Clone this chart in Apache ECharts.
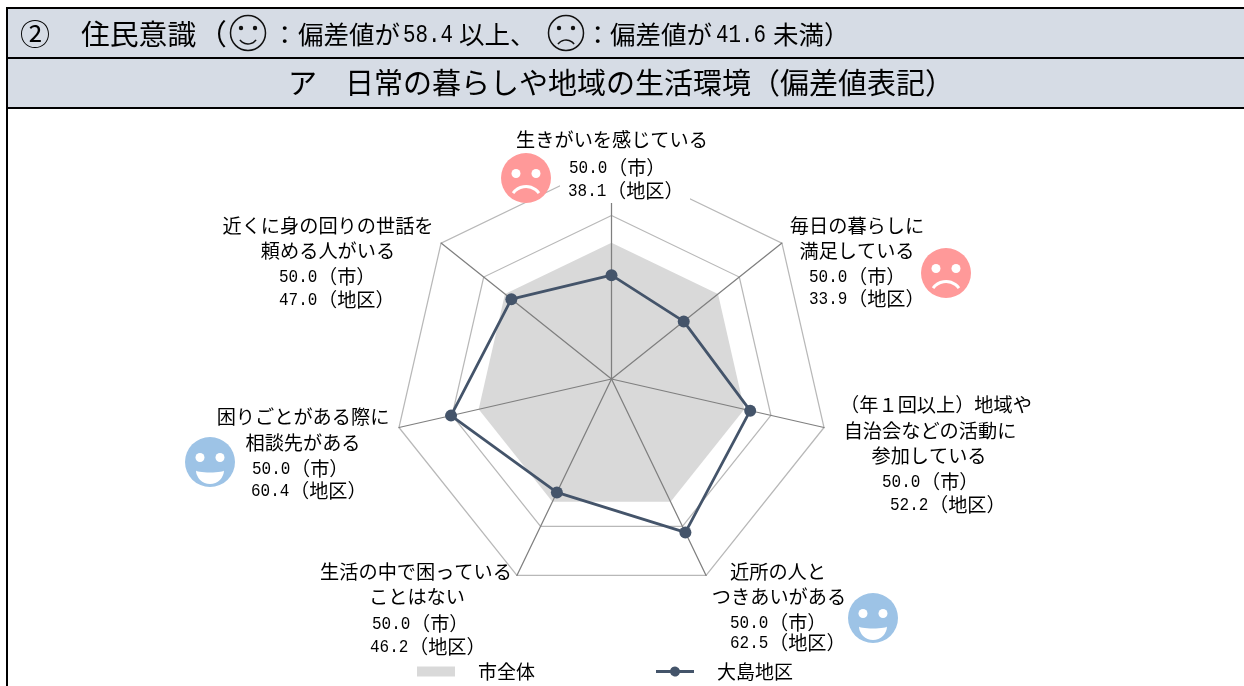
<!DOCTYPE html>
<html>
<head>
<meta charset="utf-8">
<title>住民意識</title>
<script src="https://cdn.jsdelivr.net/npm/echarts@6/dist/echarts.min.js"></script>
<style>
  html, body { margin: 0; padding: 0; background: #fff; }
  #chart { width: 1244px; height: 686px; }
</style>
</head>
<body>
<div id="chart"></div>
<script>
var indicators = [
  '生きがいを感じている',
  '毎日の暮らしに満足している',
  '（年１回以上）地域や自治会などの活動に参加している',
  '近所の人とつきあいがある',
  '生活の中で困っていることはない',
  '困りごとがある際に相談先がある',
  '近くに身の回りの世話を頼める人がいる'
];
var cityValues = [50.0, 50.0, 50.0, 50.0, 50.0, 50.0, 50.0];
var districtValues = [38.1, 33.9, 52.2, 62.5, 46.2, 60.4, 47.0];
var axisMax = 80;
var seriesNames = ['市全体', '大島地区'];

var jpFont = '"Noto Sans CJK JP", sans-serif';
var numFont = '"Liberation Mono", monospace';
var chart = echarts.init(document.getElementById('chart'));

// レーダーは反時計回りに並ぶので、時計回りに見えるよう先頭以外を逆順にする
function clockwiseOrder(list) {
  return [list[0]].concat(list.slice(1).reverse());
}

// 軸ラベルの配置（項目名は行ごとに中央揃え、数値は左揃え）
var labelLayout = [
  { lines: [['生きがいを感じている', 612, 140]], vals: [[569, 168], [568, 191]] },
  { lines: [['毎日の暮らしに', 857, 226], ['満足している', 857, 251]], vals: [[809, 277], [809, 299]] },
  { lines: [['（年１回以上）地域や', 936, 405], ['自治会などの活動に', 930, 431], ['参加している', 929, 456]], vals: [[882, 482], [890, 505]] },
  { lines: [['近所の人と', 778, 572], ['つきあいがある', 779, 597]], vals: [[730, 623], [730, 643]] },
  { lines: [['生活の中で困っている', 416, 572], ['ことはない', 417, 597]], vals: [[372, 624], [370, 647]] },
  { lines: [['困りごとがある際に', 303, 417], ['相談先がある', 303, 443]], vals: [[252, 469], [251, 491]] },
  { lines: [['近くに身の回りの世話を', 328, 226], ['頼める人がいる', 328, 251]], vals: [[279, 277], [279, 300]] }
];

function plainText(text, x, y, size, align) {
  return {
    type: 'text', x: x, y: y, z: 10,
    style: { text: text, font: size + 'px ' + jpFont, fill: '#000', align: align || 'left', verticalAlign: 'middle' }
  };
}

// 数字は半角幅に合わせて横だけ詰める
function digitText(text, x, y, size) {
  return {
    type: 'text', x: x, y: y, z: 10, scaleX: 0.833,
    style: { text: text, font: size + 'px ' + numFont, fill: '#000', align: 'left', verticalAlign: 'middle' }
  };
}

function valueText(num, suffix, x, y) {
  return [
    digitText(num.toFixed(1), x, y, 19.2),
    plainText(suffix, x + 39, y, 19.2)
  ];
}

// 吹き出し横の顔マーク
function faceIcon(cx, cy, happy) {
  var color = happy ? '#9DC3E6' : '#FF9999';
  var items = [
    { type: 'circle', z: 9, shape: { cx: cx, cy: cy, r: 25 }, style: { fill: color } },
    { type: 'circle', z: 9, shape: { cx: cx - 10, cy: cy - 4.5, r: 4.5 }, style: { fill: '#fff' } },
    { type: 'circle', z: 9, shape: { cx: cx + 10, cy: cy - 4.5, r: 4.5 }, style: { fill: '#fff' } }
  ];
  if (happy) {
    // 半円の上辺を楕円で削って口の形にする
    items.push({ type: 'sector', z: 9, shape: { cx: cx, cy: cy + 8, r: 14, startAngle: 0, endAngle: Math.PI }, style: { fill: '#fff' } });
    items.push({ type: 'ellipse', z: 9, shape: { cx: cx, cy: cy + 8, rx: 14.5, ry: 2.5 }, style: { fill: color } });
  } else {
    items.push({ type: 'arc', z: 9, shape: { cx: cx, cy: cy + 24.5, r: 16, startAngle: Math.PI * 1.2, endAngle: Math.PI * 1.8 }, style: { stroke: '#fff', lineWidth: 3, fill: null } });
  }
  return items;
}

// 見出し内の線画の顔
function outlineFace(cx, cy, happy) {
  return [
    { type: 'circle', z: 9, shape: { cx: cx, cy: cy, r: 17.5 }, style: { fill: 'none', stroke: '#111', lineWidth: 1.5 } },
    { type: 'circle', z: 9, shape: { cx: cx - 7, cy: cy - 5, r: 2.2 }, style: { fill: '#111' } },
    { type: 'circle', z: 9, shape: { cx: cx + 7, cy: cy - 5, r: 2.2 }, style: { fill: '#111' } },
    happy
      ? { type: 'arc', z: 9, shape: { cx: cx, cy: cy + 1, r: 10, startAngle: Math.PI * 0.2, endAngle: Math.PI * 0.8 }, style: { stroke: '#111', lineWidth: 1.5, fill: null } }
      : { type: 'arc', z: 9, shape: { cx: cx, cy: cy + 17, r: 10, startAngle: Math.PI * 1.2, endAngle: Math.PI * 1.8 }, style: { stroke: '#111', lineWidth: 1.5, fill: null } }
  ];
}

var elements = [
  // 見出しの帯と罫線
  { type: 'rect', z: 1, shape: { x: 7, y: 8, width: 1237, height: 100 }, style: { fill: '#D6DCE5' } },
  { type: 'rect', z: 2, shape: { x: 7, y: 7, width: 1237, height: 2 }, style: { fill: '#000' } },
  { type: 'rect', z: 2, shape: { x: 7, y: 57, width: 1237, height: 2 }, style: { fill: '#000' } },
  { type: 'rect', z: 2, shape: { x: 7, y: 107, width: 1237, height: 2 }, style: { fill: '#000' } },
  { type: 'rect', z: 2, shape: { x: 6, y: 7, width: 2, height: 679 }, style: { fill: '#000' } },
  // 上端の項目名の背面を白く抜く
  { type: 'rect', z: 4, shape: { x: 560, y: 128, width: 130, height: 75 }, style: { fill: '#fff' } },
  plainText('②', 20, 34, 30),
  plainText('住民意識', 81, 34, 28.8),
  plainText('（', 198, 34, 28.8),
  plainText('：', 272, 34, 25.5),
  plainText('偏差値が', 298, 34, 25.5),
  digitText('58.4', 403, 35, 25),
  plainText('以上、', 459, 34, 25.5),
  plainText('：', 585, 34, 25.5),
  plainText('偏差値が', 610, 34, 25.5),
  digitText('41.6', 716, 35, 25),
  plainText('未満）', 773, 34, 25.5),
  plainText('ア', 288, 83, 29),
  plainText('日常の暮らしや地域の生活環境（偏差値表記）', 345, 83, 29)
];
elements = elements.concat(outlineFace(248, 33, true), outlineFace(566, 33, false));
elements = elements.concat(faceIcon(526, 178, false), faceIcon(946, 273, false), faceIcon(873, 618, true), faceIcon(210, 462, true));

labelLayout.forEach(function (item, i) {
  item.lines.forEach(function (l) {
    elements.push(plainText(l[0], l[1], l[2], 19.2, 'center'));
  });
  elements = elements.concat(valueText(cityValues[i], '（市）', item.vals[0][0], item.vals[0][1]));
  elements = elements.concat(valueText(districtValues[i], '（地区）', item.vals[1][0], item.vals[1][1]));
});

var radarIndicator = clockwiseOrder(indicators).map(function (name) {
  return { name: name, min: 0, max: axisMax };
});

var option = {
  animation: false,
  backgroundColor: '#fff',
  radar: [{
    // 目盛り線は塗りの下
    center: [611.5, 379],
    radius: 218,
    splitNumber: 4,
    indicator: radarIndicator,
    z: 0,
    axisName: { show: false },
    axisLine: { show: false },
    axisTick: { show: false },
    axisLabel: { show: false },
    splitArea: { show: false },
    splitLine: { lineStyle: { color: '#B8B8B8', width: 1.25 } }
  }, {
    // 放射線は塗りの上
    center: [611.5, 379],
    radius: 218,
    splitNumber: 4,
    indicator: radarIndicator,
    z: 3,
    axisName: { show: false },
    axisLine: { lineStyle: { color: '#7F7F7F', width: 1.25 } },
    axisTick: { show: false },
    axisLabel: { show: false },
    splitArea: { show: false },
    splitLine: { show: false }
  }],
  legend: {
    left: 412,
    top: 657,
    itemWidth: 38,
    itemHeight: 10,
    itemGap: 121,
    textStyle: { fontFamily: jpFont, fontSize: 19, color: '#000', padding: [0, 0, 0, 18] },
    data: [
      { name: seriesNames[0], icon: 'rect' },
      { name: seriesNames[1], icon: 'path://M0 3.6H14.2a5 5 0 0 1 9.6 0H38V6.4H23.8a5 5 0 0 1-9.6 0H0Z' }
    ]
  },
  series: [{
    type: 'radar',
    radarIndex: 0,
    z: 2,
    symbol: 'none',
    itemStyle: { color: '#D9D9D9' },
    lineStyle: { width: 0 },
    areaStyle: { color: '#D9D9D9', opacity: 1 },
    data: [{ name: seriesNames[0], value: clockwiseOrder(cityValues) }]
  }, {
    type: 'radar',
    radarIndex: 0,
    z: 5,
    symbol: 'circle',
    symbolSize: 12,
    itemStyle: { color: '#44546A' },
    lineStyle: { color: '#44546A', width: 2.8 },
    data: [{ name: seriesNames[1], value: clockwiseOrder(districtValues) }]
  }],
  graphic: { elements: elements }
};
chart.setOption(option);
</script>
</body>
</html>
